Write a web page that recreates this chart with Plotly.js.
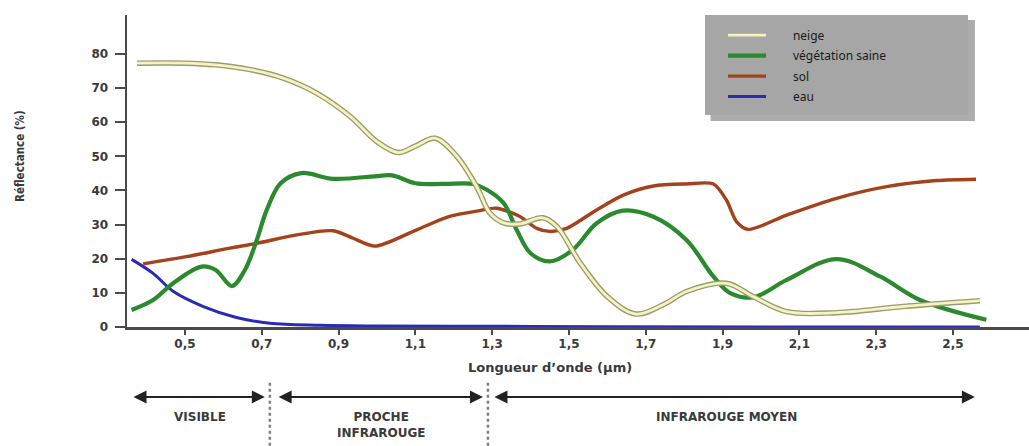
<!DOCTYPE html>
<html>
<head>
<meta charset="utf-8">
<script src="https://cdn.plot.ly/plotly-3.0.1.min.js"></script>
<style>html,body{margin:0;padding:0;background:#fff;}#chart{width:1029px;height:446px;}</style>
</head>
<body>
<div id="chart"></div>
<script>
// ---- Data ----
const seriesNames = ["neige", "végétation saine", "sol", "eau"];

const neigeX = [0.375, 0.5, 0.58, 0.67, 0.756, 0.843, 0.93, 1.0, 1.055, 1.1, 1.151, 1.208, 1.26, 1.294, 1.33, 1.372, 1.432, 1.469, 1.529, 1.6, 1.675, 1.75, 1.806, 1.91, 1.98, 2.067, 2.197, 2.37, 2.57];
const neigeY = [77.3, 77.3, 76.8, 75.4, 72.9, 68.5, 61.7, 54.3, 51.1, 53.0, 55.3, 50.0, 41.0, 33.4, 30.5, 30.2, 32.0, 29.4, 18.8, 8.9, 3.8, 6.8, 10.4, 12.8, 8.9, 4.5, 4.2, 6.0, 7.7];

const vegX = [0.361, 0.417, 0.47, 0.543, 0.58, 0.622, 0.656, 0.687, 0.713, 0.749, 0.803, 0.886, 1.008, 1.04, 1.1, 1.172, 1.25, 1.286, 1.33, 1.364, 1.4, 1.45, 1.51, 1.572, 1.64, 1.72, 1.806, 1.876, 1.92, 1.98, 2.067, 2.197, 2.31, 2.414, 2.587];
const vegY = [5.0, 7.9, 12.9, 17.7, 16.7, 12.0, 16.7, 25.5, 34.3, 42.1, 45.1, 43.4, 44.3, 44.4, 42.1, 41.9, 41.9, 40.2, 36.3, 28.4, 21.6, 19.2, 22.6, 30.4, 34.1, 32.3, 25.5, 14.8, 9.9, 8.7, 13.8, 19.9, 14.8, 7.9, 2.1];

const solX = [0.391, 0.504, 0.617, 0.687, 0.791, 0.886, 0.938, 0.995, 1.102, 1.189, 1.268, 1.311, 1.372, 1.416, 1.45, 1.494, 1.572, 1.643, 1.72, 1.806, 1.876, 1.91, 1.936, 1.967, 2.067, 2.197, 2.327, 2.457, 2.56];
const solY = [18.5, 20.6, 23.1, 24.5, 27.0, 28.2, 26.0, 23.7, 28.4, 32.4, 34.1, 34.8, 32.4, 28.9, 28.0, 28.9, 34.3, 38.7, 41.3, 41.9, 41.9, 37.2, 30.9, 28.6, 32.8, 37.7, 41.1, 42.9, 43.3];

const eauX = [0.361, 0.417, 0.47, 0.548, 0.634, 0.721, 0.852, 1.0, 1.3, 1.6, 2.0, 2.57];
const eauY = [19.8, 15.7, 10.4, 6.0, 2.8, 1.1, 0.5, 0.3, 0.2, 0.1, 0.0, 0.0];

const xTickVals = [0.5, 0.7, 0.9, 1.1, 1.3, 1.5, 1.7, 1.9, 2.1, 2.3, 2.5];
const xTickText = ["0,5", "0,7", "0,9", "1,1", "1,3", "1,5", "1,7", "1,9", "2,1", "2,3", "2,5"];
const yTickVals = [0, 10, 20, 30, 40, 50, 60, 70, 80];

const xTitle = "Longueur d’onde (µm)";
const yTitle = "Réflectance (%)";
const bandLabels = ["VISIBLE", "PROCHE<br>INFRAROUGE", "INFRAROUGE MOYEN"];
const bandLimits = [0.721, 1.289];

// ---- Traces ----
const txtCol = "#3a3a3a";
const pad = "\u00a0\u00a0\u00a0\u00a0\u00a0\u00a0\u00a0";
const traces = [
  {x: eauX, y: eauY, name: pad + seriesNames[3], legendgroup: "g4", legendrank: 4, mode: "lines", line: {color: "#2a2ab4", width: 3, shape: "spline", smoothing: 1}},
  {x: solX, y: solY, name: pad + seriesNames[2], legendgroup: "g3", legendrank: 3, mode: "lines", line: {color: "#a3421d", width: 3.4, shape: "spline", smoothing: 0.8}},
  {x: vegX, y: vegY, name: pad + seriesNames[1], legendgroup: "g2", legendrank: 2, mode: "lines", line: {color: "#2c8a2e", width: 4.2, shape: "spline", smoothing: 1}},
  {x: neigeX, y: neigeY, name: pad + seriesNames[0], legendgroup: "g1", legendrank: 1, mode: "lines", showlegend: false, hoverinfo: "skip", line: {color: "#9a9a74", width: 5.5, shape: "spline", smoothing: 1}},
  {x: neigeX, y: neigeY, name: pad + seriesNames[0], legendgroup: "g1", legendrank: 1, mode: "lines", line: {color: "#f4f4bc", width: 2.8, shape: "spline", smoothing: 1}}
];

const bandFont = {family: "DejaVu Sans", size: 12, color: txtCol, weight: "bold"};
const arrowBase = {xref: "x", yref: "paper", y: -0.224, axref: "x", ayref: "pixel", ay: 0, text: "", showarrow: true, arrowhead: 2, arrowside: "end+start", arrowsize: 1.3, arrowwidth: 2, arrowcolor: "#222", standoff: 0, startstandoff: 0};
const annots = [
  {xref: "paper", yref: "paper", x: 0.469, y: -0.131, xanchor: "center", yanchor: "middle", text: xTitle, showarrow: false, font: {family: "DejaVu Sans", size: 13, color: txtCol, weight: "bold"}},
  {xref: "paper", yref: "paper", x: -0.1186, y: 0.548, xanchor: "center", yanchor: "middle", text: yTitle, textangle: -90, showarrow: false, font: {family: "DejaVu Sans Condensed, DejaVu Sans", size: 11.5, color: txtCol, weight: "bold"}},
  Object.assign({}, arrowBase, {x: 0.708, ax: 0.362}),
  Object.assign({}, arrowBase, {x: 1.276, ax: 0.74}),
  Object.assign({}, arrowBase, {x: 2.557, ax: 1.302}),
  {xref: "x", yref: "paper", x: 0.539, y: -0.288, xanchor: "center", yanchor: "middle", text: bandLabels[0], showarrow: false, font: bandFont},
  {xref: "x", yref: "paper", x: 1.01, y: -0.3125, xanchor: "center", yanchor: "middle", text: bandLabels[1], showarrow: false, font: bandFont},
  {xref: "x", yref: "paper", x: 1.911, y: -0.288, xanchor: "center", yanchor: "middle", text: bandLabels[2], showarrow: false, font: bandFont}
];

const shapes = [
  {type: "rect", xref: "paper", yref: "paper", x0: 0.647, x1: 0.940, y0: 0.660, y1: 0.984, fillcolor: "rgba(90,90,90,0.5)", line: {width: 0}, layer: "below"},
  {type: "rect", xref: "paper", yref: "paper", x0: 0.6408, x1: 0.9324, y0: 0.6795, y1: 1.0, fillcolor: "#a6a6a6", line: {width: 0}, layer: "below"},
  {type: "line", xref: "x", yref: "paper", x0: bandLimits[0], x1: bandLimits[0], y0: -0.381, y1: -0.17, line: {color: "#808080", width: 2.5, dash: "dot"}},
  {type: "line", xref: "x", yref: "paper", x0: bandLimits[1], x1: bandLimits[1], y0: -0.381, y1: -0.17, line: {color: "#808080", width: 2.5, dash: "dot"}}
];

const layout = {
  width: 1029, height: 446,
  margin: {l: 127, r: 0, t: 15, b: 119, pad: 0},
  paper_bgcolor: "#ffffff", plot_bgcolor: "#ffffff",
  showlegend: true,
  legend: {x: 0.6608, y: 0.982, xanchor: "left", yanchor: "top", bgcolor: "rgba(0,0,0,0)", borderwidth: 0,
           traceorder: "grouped", tracegroupgap: 1.5, itemwidth: 38,
           font: {family: "Noto Sans", size: 12, color: "#1a1a1a"}},
  xaxis: {range: [0.349, 2.698], showgrid: false, zeroline: false, showline: true, linecolor: "#4a4a4a", linewidth: 2.5,
          tickmode: "array", tickvals: xTickVals, ticktext: xTickText, ticks: "outside", ticklen: 5, tickwidth: 2, tickcolor: "#4a4a4a",
          tickfont: {family: "DejaVu Sans", size: 12, color: txtCol, weight: "bold"}, ticklabelstandoff: -1},
  yaxis: {range: [0, 91.4], showgrid: false, zeroline: false, showline: true, linecolor: "#4a4a4a", linewidth: 2.5,
          tickmode: "array", tickvals: yTickVals, ticks: "outside", ticklen: 10, tickwidth: 2, tickcolor: "#4a4a4a",
          tickfont: {family: "DejaVu Sans", size: 12, color: txtCol, weight: "bold"}, ticklabelstandoff: 4},
  annotations: annots,
  shapes: shapes
};

Plotly.newPlot("chart", traces, layout, {displayModeBar: false, staticPlot: true});
</script>
</body>
</html>
